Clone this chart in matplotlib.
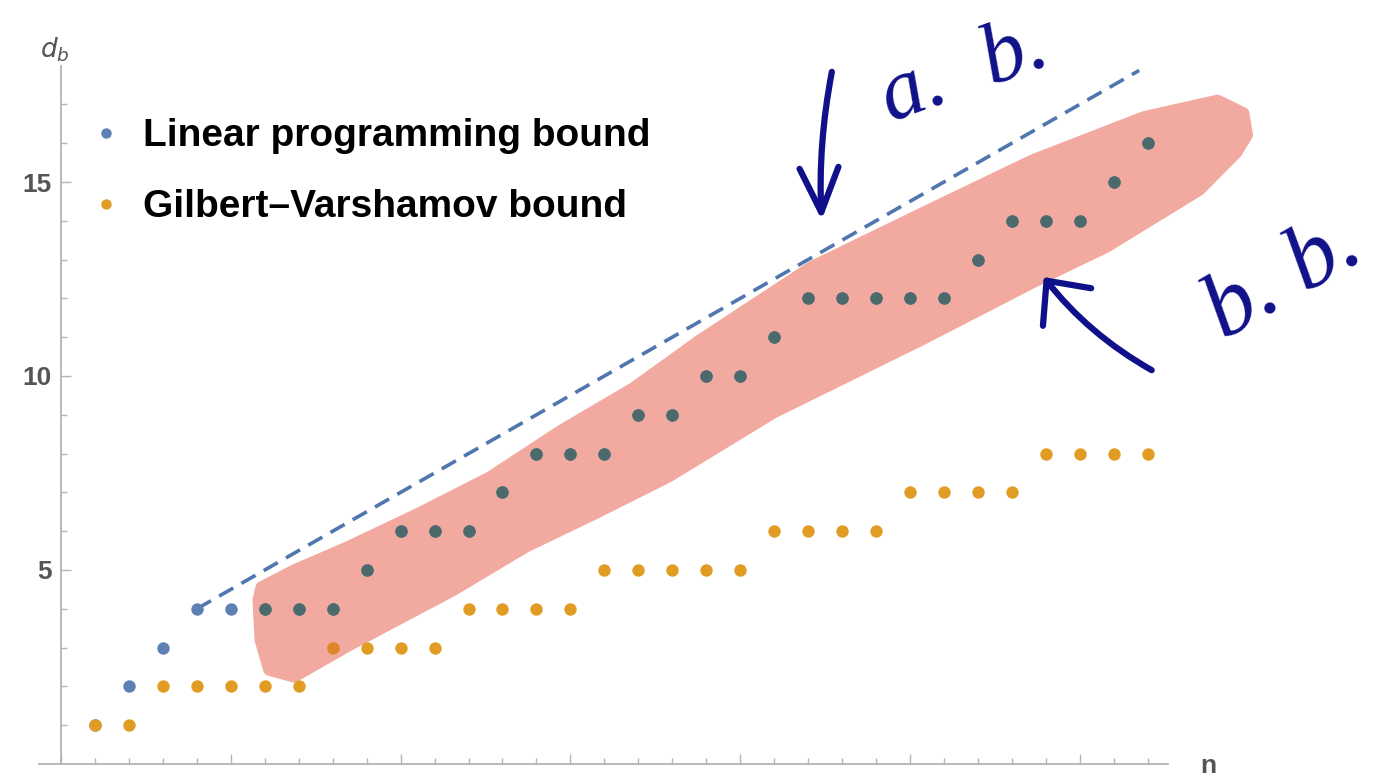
import matplotlib
matplotlib.use("Agg")
import matplotlib.pyplot as plt
from matplotlib.patches import Polygon
from matplotlib.lines import Line2D

# block length n and the two bounds on the minimum distance
n = list(range(1, 33))
lp_bound = [1, 2, 3, 4, 4, 4, 4, 4, 5, 6, 6, 6, 7, 8, 8, 8,
            9, 9, 10, 10, 11, 12, 12, 12, 12, 12, 13, 14, 14, 14, 15, 16]
gv_bound = [1, 1, 2, 2, 2, 2, 2, 3, 3, 3, 3, 4, 4, 4, 4, 5,
            5, 5, 5, 5, 6, 6, 6, 6, 7, 7, 7, 7, 8, 8, 8, 8]

# asymptotic (dashed) line
asym_n = [4, 31.75]
asym_d = [4, 17.875]

# highlighter stroke around the linear programming points
marker_n = [5.80, 5.89, 6.86, 8.42, 10.54, 12.63, 14.72, 16.84, 18.81, 22.08, 25.35,
            28.61, 31.88, 34.06, 34.83, 34.94, 34.62,
            33.53, 30.79, 28.61, 25.35, 20.99, 17.90, 15.78, 13.69, 11.57, 8.42,
            6.86, 6.12, 5.86]
marker_d = [4.23, 4.56, 5.00, 5.59, 6.47, 7.40, 8.60, 9.69, 10.93, 12.81, 14.20,
            15.57, 16.68, 17.11, 16.78, 16.21, 15.75,
            14.79, 13.32, 12.40, 10.93, 9.05, 7.40, 6.47, 5.59, 4.48, 3.02,
            2.24, 2.42, 3.20]

# pen notes
arrow_ab = [(22.70, 17.84), (22.40, 14.02)]
arrow_bb = [(32.12, 10.15), (28.94, 12.55)]
note_ab = (26.6, 17.8)
note_bb = (36.0, 12.5)

blue = "#5E81B5"
orange = "#E19C24"
ink = "#10108A"
axis_gray = "#B4B4B4"

fig = plt.figure(figsize=(13.74, 7.76), dpi=100)
ax = fig.add_axes([39 / 1374, 0.0005, 1129 / 1374, (775.6 - 65.6) / 776])
ax.set_xlim(-0.65, 32.6)
ax.set_ylim(-0.3, 18.0)

hl = Polygon(list(zip(marker_n, marker_d)), closed=True, facecolor="#F2AAA0",
             edgecolor="#F2AAA0", lw=8, joinstyle="round", clip_on=False, zorder=1)
ax.add_patch(hl)

ax.plot(asym_n, asym_d, ls=(0, (4.5, 2.6)), lw=2.6, color="#4F76AE", zorder=2)

ax.scatter(n, lp_bound, s=80, color=blue, linewidths=0, zorder=3)
ax.scatter(n, gv_bound, s=80, color=orange, linewidths=0, zorder=4)

# points under the highlighter look darker
lp_in = ax.scatter(n, lp_bound, s=80, color="#4C6A6C", linewidths=0, zorder=5)
lp_in.set_clip_path(hl)
gv_in = ax.scatter(n, gv_bound, s=80, color="#DE852C", linewidths=0, zorder=5)
gv_in.set_clip_path(hl)

for sp in ["top", "right"]:
    ax.spines[sp].set_visible(False)
ax.spines["left"].set_position(("data", 0))
ax.spines["bottom"].set_position(("data", 0))
ax.spines["left"].set_bounds(0, 18)
for sp in ["left", "bottom"]:
    ax.spines[sp].set_color(axis_gray)
    ax.spines[sp].set_linewidth(1.3)

ax.set_xticks(range(0, 33, 5))
ax.set_xticks(range(0, 33), minor=True)
ax.set_xticklabels([])
ax.set_yticks([5, 10, 15])
ax.set_yticks(range(1, 18), minor=True)
ax.tick_params(which="both", direction="in", color=axis_gray, width=1.0)
ax.tick_params(which="major", length=7)
ax.tick_params(which="minor", length=4)
ax.tick_params(axis="y", labelsize=19, labelcolor="#555555", pad=7)
for lbl in ax.get_yticklabels():
    lbl.set_family("Liberation Sans")
    lbl.set_weight("bold")

handles = [Line2D([], [], ls="", marker="o", markersize=7.5, color=blue, mew=0),
           Line2D([], [], ls="", marker="o", markersize=7.5, color=orange, mew=0)]
ax.legend(handles, ["Linear programming bound", "Gilbert–Varshamov bound"],
          loc="upper left", bbox_to_anchor=(67 / 1374, 1 - 99 / 776),
          bbox_transform=fig.transFigure, frameon=False, borderpad=0,
          handlelength=1.0, handletextpad=0.45, labelspacing=0.9,
          prop={"family": "Liberation Sans", "weight": "bold", "size": 28})

fig.text(40 / 1374, 1 - 50 / 776, r"$d_b$", fontsize=19, color="#555555",
         va="center", ha="left")
fig.text(1200 / 1374, 1 - 766 / 776, "n", fontsize=19, color="#555555",
         va="center", ha="left", family="Liberation Sans", weight="bold")

# handwritten notes
for (tail, tip), rad, hlen, hwid in [(arrow_ab, 0.06, 3.2, 1.4),
                                     (arrow_bb, -0.1, 2.4, 2.2)]:
    ax.annotate("", xy=tip, xytext=tail, annotation_clip=False,
                arrowprops=dict(arrowstyle=f"->,head_length={hlen},head_width={hwid}",
                                lw=4.5, color=ink, shrinkA=0, shrinkB=0,
                                capstyle="round", joinstyle="round",
                                connectionstyle=f"arc3,rad={rad}"), zorder=6)
ax.text(*note_ab, "a.  b.", fontsize=62, color=ink, rotation=20, ha="center",
        va="center", family="Liberation Serif", style="italic",
        clip_on=False, zorder=6)
ax.text(*note_bb, "b. b.", fontsize=68, color=ink, rotation=30, ha="center",
        va="center", family="Liberation Serif", style="italic",
        clip_on=False, zorder=6)

fig.savefig("out.png", dpi=100, facecolor="white")
